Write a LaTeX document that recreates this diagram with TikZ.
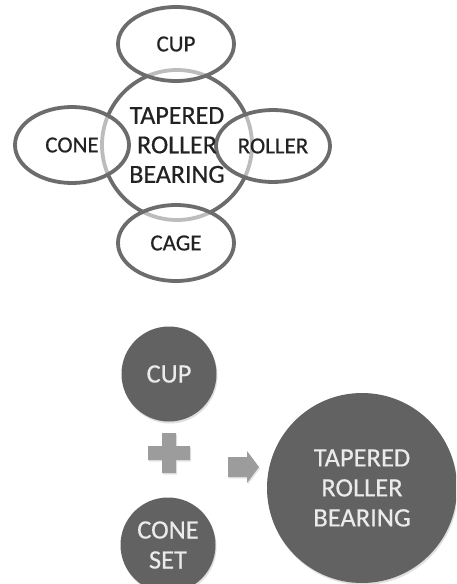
\documentclass[tikz,border=0pt]{standalone}
\usepackage{fontspec}
\setmainfont{Carlito}[RawFeature={embolden=0.5}]
\usetikzlibrary{shapes.geometric,shadows}
\definecolor{ringgray}{HTML}{6C6C6C}
\definecolor{inktext}{HTML}{222222}
\definecolor{discgray}{HTML}{626262}
\definecolor{signgray}{HTML}{9C9C9C}
\tikzset{
  ring/.style={ellipse, draw=ringgray, line width=3.8pt, inner sep=0pt},
  ringfill/.style={ellipse, fill=white, fill opacity=0.55, inner sep=0pt},
  disc/.style={circle, fill=discgray, inner sep=0pt, text=white!92!black,
    align=center, font=\fontsize{26.5}{30}\selectfont,
    drop shadow={shadow xshift=1pt, shadow yshift=-2pt, opacity=0.25}},
  outertext/.style={text=inktext, font=\fontsize{23}{27}\selectfont},
}
\begin{document}
\begin{tikzpicture}[x=1pt,y=-1pt]
\useasboundingbox (0,0) rectangle (456,584);
\fill[white] (0,0) rectangle (456,584);
\clip (0,0) rectangle (456,584);
% top diagram
\node[circle, draw=ringgray, line width=3.8pt, minimum size=150pt, inner sep=0pt] (hub) at (177,145) {};
\foreach \px/\py/\rx/\ry in {176/44/58/37, 72/145/57/38, 273/146/57/36, 176/243/58/38}{
  \node[ringfill, minimum width=2*\rx pt, minimum height=2*\ry pt] at (\px,\py) {};
}
\node[ring, minimum width=116pt, minimum height=74pt] (cupR) at (176,44) {};
\node[ring, minimum width=114pt, minimum height=76pt] (coneR) at (72,145) {};
\node[ring, minimum width=114pt, minimum height=72pt] (rollerR) at (273,146) {};
\node[ring, minimum width=116pt, minimum height=76pt] (cageR) at (176,243) {};
\node[outertext] (cupT) at (cupR.center) {CUP};
\node[outertext] (coneT) at (coneR.center) {CONE};
\node[outertext] (rollerT) at (rollerR.center) {ROLLER};
\node[outertext] (cageT) at (cageR.center) {CAGE};
\node[text=inktext, align=center, font=\fontsize{26}{29.5}\selectfont] (hubT) at (177,145) {TAPERED\\ROLLER\\BEARING};
% bottom diagram
\node[disc, minimum size=95pt] (cup) at (169,374) {CUP};
\node[disc, minimum size=95pt] (cone) at (168,545) {CONE\\SET};
\node[disc, minimum size=190pt] (trb) at (362,488) {TAPERED\\ROLLER\\BEARING};
% plus sign
\coordinate (plusc) at (169,453);
\fill[signgray, drop shadow={shadow xshift=1pt, shadow yshift=-1.5pt, opacity=0.2}]
  ([xshift=-21pt,yshift=7pt]plusc) -- ([xshift=-7pt,yshift=7pt]plusc) -- ([xshift=-7pt,yshift=20pt]plusc)
  -- ([xshift=7pt,yshift=20pt]plusc) -- ([xshift=7pt,yshift=7pt]plusc) -- ([xshift=21pt,yshift=7pt]plusc)
  -- ([xshift=21pt,yshift=-7pt]plusc) -- ([xshift=7pt,yshift=-7pt]plusc) -- ([xshift=7pt,yshift=-20pt]plusc)
  -- ([xshift=-7pt,yshift=-20pt]plusc) -- ([xshift=-7pt,yshift=-7pt]plusc) -- ([xshift=-21pt,yshift=-7pt]plusc) -- cycle;
% block arrow
\coordinate (arrc) at (243,467);
\fill[signgray, drop shadow={shadow xshift=1pt, shadow yshift=-1.5pt, opacity=0.2}]
  ([xshift=-15pt,yshift=10pt]arrc) -- ([xshift=4pt,yshift=10pt]arrc) -- ([xshift=4pt,yshift=16pt]arrc)
  -- ([xshift=16pt]arrc) -- ([xshift=4pt,yshift=-16pt]arrc) -- ([xshift=4pt,yshift=-10pt]arrc)
  -- ([xshift=-15pt,yshift=-10pt]arrc) -- cycle;
\end{tikzpicture}
\end{document}
